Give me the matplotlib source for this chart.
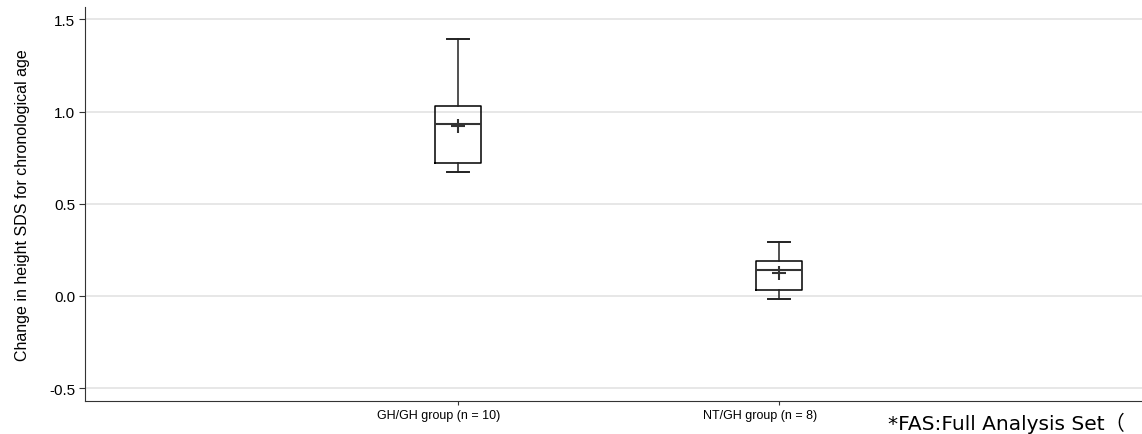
import matplotlib
matplotlib.use('Agg')
import matplotlib.pyplot as plt
import matplotlib.transforms as mtransforms

groups = ['GH/GH group (n = 10)', 'NT/GH group (n = 8)']
whislo = [0.672, -0.015]
q1 = [0.719, 0.031]
med = [0.934, 0.139]
q3 = [1.028, 0.191]
whishi = [1.391, 0.293]
means = [0.921, 0.126]
yticks = [-0.5, 0.0, 0.5, 1.0, 1.5]

plt.rcParams['font.family'] = ['Liberation Sans', 'DejaVu Sans']

fig = plt.figure(figsize=(11.42, 4.35), dpi=100)
ax = fig.add_axes([85 / 1142, 33 / 435, 1057 / 1142, 394 / 435])

stats = []
for i in range(len(groups)):
    stats.append({'whislo': whislo[i], 'q1': q1[i], 'med': med[i], 'q3': q3[i],
                  'whishi': whishi[i], 'mean': means[i], 'fliers': [], 'label': groups[i]})

ax.bxp(stats, positions=[1, 2], widths=0.143, showmeans=True, meanline=False,
       boxprops=dict(color='black', linewidth=1.1),
       medianprops=dict(color='#333333', linewidth=1.5),
       whiskerprops=dict(color='#222222', linewidth=1.1),
       capprops=dict(color='#222222', linewidth=1.4),
       meanprops=dict(marker='+', markersize=10, markeredgecolor='#333333', markeredgewidth=1.5),
       capwidths=0.068, zorder=3)

ax.set_xlim(1 - 373 / 321, 2 + 363 / 321)
ax.set_ylim(-0.57, 1.567)
ax.set_yticks(yticks)
ax.set_yticklabels(['-0.5', '0.0', '0.5', '1.0', '1.5'])
ax.yaxis.grid(True, color='#e3e3e3', linewidth=1.2, zorder=0)
ax.set_axisbelow(True)

ax.spines['top'].set_visible(False)
ax.spines['right'].set_visible(False)
ax.spines['left'].set_color('#333333')
ax.spines['bottom'].set_color('#333333')
ax.tick_params(axis='y', length=4, color='#333333', labelsize=11, pad=3)
ax.tick_params(axis='x', length=3, direction='in', color='#333333', labelsize=9, pad=6)

ax.set_xticks([1, 2])
ax.set_xticklabels(groups)
offset = mtransforms.ScaledTranslation(-19 / 100, 0, fig.dpi_scale_trans)
for lbl in ax.get_xticklabels():
    lbl.set_transform(lbl.get_transform() + offset)
# tick marks point down from the axis line
for t in ax.xaxis.get_major_ticks():
    t.tick1line.set_marker(matplotlib.lines.TICKDOWN)

ax.set_ylabel('Change in height SDS for chronological age', fontsize=11.5, labelpad=14)

fig.text(888 / 1142, 5 / 435, '*FAS:Full Analysis Set（', fontsize=14.5,
         family=['DejaVu Sans', 'Noto Sans CJK JP'], va='baseline', ha='left')

fig.savefig('out.png', dpi=100)
